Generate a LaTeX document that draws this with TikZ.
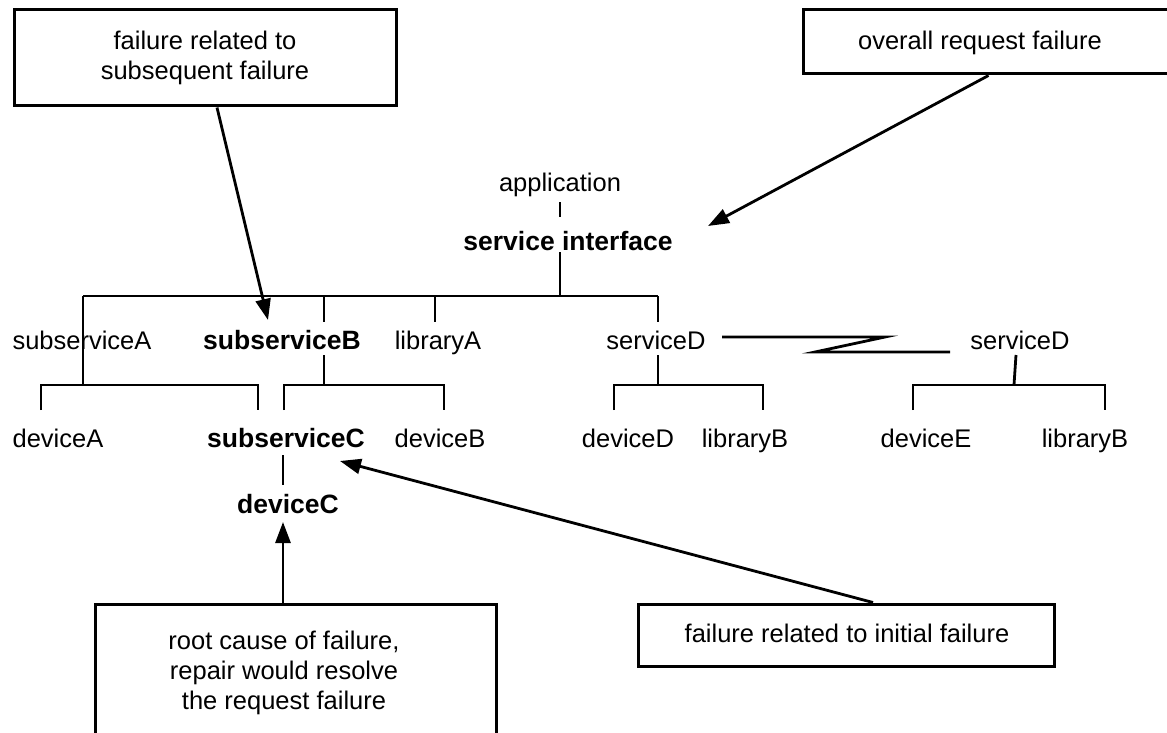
\documentclass[tikz,border=0pt]{standalone}
\usepackage{fontspec}
\setmainfont{Liberation Sans}
\usetikzlibrary{arrows.meta}
\begin{document}
\begin{tikzpicture}[x=1pt,y=-1pt,line width=2.8pt,
  lbl/.style={inner sep=0pt,anchor=base,font=\fontsize{25.5}{30}\selectfont},
  blbl/.style={lbl,font=\fontsize{26.5}{30}\selectfont\bfseries},
  cbox/.style={draw,line width=3pt,inner sep=0pt},
  btxt/.style={inner sep=0pt,align=center,font=\fontsize{25.5}{30}\selectfont},
  arr/.style={-{Triangle[length=21pt,width=15pt]}}]
\useasboundingbox (0,0) rectangle (1167,733);

% boxes
\node[cbox,minimum width=382pt,minimum height=96pt] (tlbox) at (205,58) {};
\node[btxt] (tltext) at (205,58) {failure related to\\subsequent failure};
\node[cbox,minimum width=377pt,minimum height=64pt] (trbox) at (991.5,42) {};
\node[lbl] (trtext) at (980,50) {overall request failure};
\node[cbox,minimum width=401pt,minimum height=152pt] (blbox) at (295.5,680) {};
\node[btxt] (bltext) at (284,673) {root cause of failure,\\repair would resolve\\the request failure};
\node[cbox,minimum width=416pt,minimum height=62pt] (brbox) at (846,635) {};
\node[lbl] (brtext) at (847,642) {failure related to initial failure};

% tree lines
\draw (560,202) -- (560,217);
\draw (560,252) -- (560,296);
\draw (83,296) -- (658,296);
\draw (83,296) -- (83,385);
\draw (324,296) -- (324,322);
\draw (435,296) -- (435,322);
\draw (658,296) -- (658,322);
\draw (324,355) -- (324,385);
\draw (41,410) -- (41,385) -- (258,385) -- (258,410);
\draw (284,410) -- (284,385) -- (444,385) -- (444,410);
\draw (658,355) -- (658,385);
\draw (614,410) -- (614,385) -- (763,385) -- (763,410);
\draw (1016,355) -- (1014,385);
\draw (913,410) -- (913,385) -- (1105,385) -- (1105,410);
\draw (722,337) -- (885,337) -- (815,352) -- (950,352);
\draw (283,455) -- (283,485);

% labels
\node[lbl] (app) at (560,191) {application};
\node[blbl] (si) at (568,250) {service interface};
\node[lbl] (sa) at (82,349) {subserviceA};
\node[blbl] (sb) at (282,349) {subserviceB};
\node[lbl] (la) at (438,349) {libraryA};
\node[lbl] (sd1) at (656,349) {serviceD};
\node[lbl] (sd2) at (1020,349) {serviceD};
\node[lbl] (da) at (58,447) {deviceA};
\node[blbl] (sc) at (286,447) {subserviceC};
\node[lbl] (db) at (440,447) {deviceB};
\node[lbl] (dd) at (628,447) {deviceD};
\node[lbl] (lb1) at (745,447) {libraryB};
\node[lbl] (de) at (926,447) {deviceE};
\node[lbl] (lb2) at (1085,447) {libraryB};
\node[blbl] (dc) at (288,513) {deviceC};

% arrows
\coordinate (t1) at (268,320);
\coordinate (t2) at (708,226);
\coordinate (t3) at (283,522);
\coordinate (t4) at (340,461);
\draw[arr] ([xshift=12pt]tlbox.south) -- (t1);
\draw[arr] ([xshift=-3pt]trbox.south) -- (t2);
\draw[arr] (blbox.north -| t3) -- (t3);
\draw[arr] ([xshift=27pt]brbox.north) -- (t4);
\end{tikzpicture}
\end{document}
